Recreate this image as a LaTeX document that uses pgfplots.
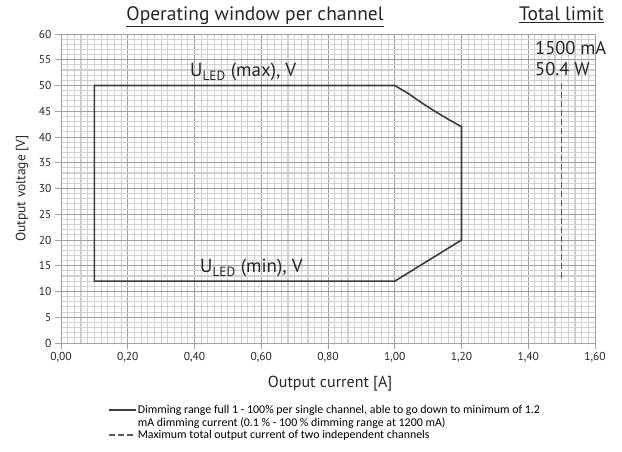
\documentclass[border=0pt]{standalone}
\usepackage{pgfplots}
\pgfplotsset{compat=1.18}
\usepackage{fontspec}
\setmainfont{PT Sans}
\newfontfamily\legfont{Carlito}
\definecolor{minorgrid}{HTML}{D0D0D0}
\definecolor{majorgrid}{HTML}{A0A0A0}
\definecolor{curve}{HTML}{3C3C3C}
\definecolor{dashc}{HTML}{5A5A5A}
\begin{document}
\begin{tikzpicture}
\useasboundingbox (0pt,0pt) rectangle (622pt,452pt);
\begin{axis}[
  at={(61pt,109pt)}, anchor=south west,
  width=534pt, height=309pt, scale only axis,
  xmin=0, xmax=1.6, ymin=0, ymax=60,
  xtick={0,0.2,0.4,0.6,0.8,1.0,1.2,1.4,1.6},
  ytick={0,5,10,15,20,25,30,35,40,45,50,55,60},
  minor x tick num=9, minor y tick num=4,
  grid=both,
  minor grid style={draw=minorgrid, line width=1.1pt},
  major grid style={draw=majorgrid, line width=0.8pt},
  axis line style={draw=majorgrid, line width=0.8pt},
  tick align=outside,
  major tick length=6pt, minor tick length=0pt,
  tick style={draw=majorgrid, line width=0.8pt},
  xtick pos=bottom, ytick pos=left,
  x tick label style={/pgf/number format/.cd, fixed, fixed zerofill, precision=2, use comma, assume math mode=true},
  y tick label style={/pgf/number format/assume math mode=true},
  tick label style={font=\fontsize{11.5}{13}\selectfont, text=black!85},
  xlabel={Output current [A]},
  ylabel={Output voltage [V]},
  every axis x label/.style={at={(axis description cs:0.504,-0.13)}, anchor=center, font=\fontsize{16}{18}\selectfont, text=black!85},
  every axis y label/.style={at={(axis description cs:-0.073,0.5)}, anchor=center, rotate=90, font=\fontsize{13.5}{15}\selectfont, text=black!85},
  legend cell align=left,
  legend image code/.code={\draw[#1] (0pt,0pt) -- (27pt,0pt);},
  legend style={draw=none, fill=none, at={(axis description cs:0.088,-0.198)}, anchor=north west,
     font=\legfont\fontsize{11.9}{14}\selectfont, inner sep=0pt, row sep=0.5pt,
     nodes={inner xsep=1pt, inner ysep=1pt}},
  clip=false,
]
\addplot[curve, line width=1.6pt, line join=miter] coordinates {
  (1.00,12) (0.10,12) (0.10,50) (1.00,50) (1.04,48.46) (1.08,46.67) (1.12,45.0) (1.16,43.45) (1.20,42.0) (1.20,20) (1.00,12)
};
\addlegendentry{Dimming range full 1 - 100\% per single channel, able to go down to minimum of 1.2}
\addlegendimage{empty legend}
\addlegendentry{mA dimming current (0.1 \% - 100 \% dimming range at 1200 mA)}
\addplot[dashc, line width=1.5pt, dash pattern=on 6pt off 3pt] coordinates {(1.5,50.4) (1.5,12)};
\addlegendentry{Maximum total output current of two independent channels}
\end{axis}
\node[anchor=base, font=\fontsize{19.5}{22}\selectfont, text=black!85] at (255pt,431pt) {\underline{Operating window per channel}};
\node[anchor=base, font=\fontsize{19.5}{22}\selectfont, text=black!85] at (561.5pt,431pt) {\underline{Total limit}};
\node[anchor=base west, inner xsep=0pt, font=\fontsize{18.5}{21}\selectfont, text=black!85] at (535pt,397pt) {1500 mA};
\node[anchor=base west, inner xsep=0pt, font=\fontsize{18.5}{21}\selectfont, text=black!85] at (535pt,376pt) {50.4 W};
\node[anchor=base west, inner xsep=0pt, font=\fontsize{19}{21}\selectfont, text=black!85] at (190pt,375pt) {U\textsubscript{LED} (max), V};
\node[anchor=base west, inner xsep=0pt, font=\fontsize{19}{21}\selectfont, text=black!85] at (200pt,179pt) {U\textsubscript{LED} (min), V};
\end{tikzpicture}
\end{document}
